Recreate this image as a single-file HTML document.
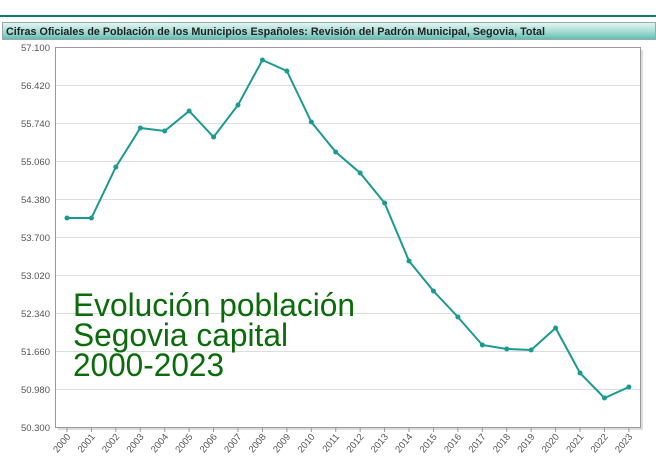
<!DOCTYPE html>
<html><head><meta charset="utf-8"><style>
body{margin:0;width:656px;height:469px;background:#fff;overflow:hidden;font-family:"Liberation Sans",sans-serif}
</style></head><body>
<svg width="656" height="469" xmlns="http://www.w3.org/2000/svg" style="position:absolute;left:0;top:0">
<defs><linearGradient id="g" x1="0" y1="0" x2="0" y2="1"><stop offset="0" stop-color="#e6f5f2"/><stop offset="0.5" stop-color="#a9ded6"/><stop offset="1" stop-color="#5fbcae"/></linearGradient></defs>
<rect x="0" y="15" width="656" height="2" fill="#0f7a6e"/>
<rect x="2.5" y="22.5" width="653" height="17" fill="url(#g)" stroke="#9aa" stroke-width="1"/>
<text x="6" y="35" font-size="11" font-weight="bold" fill="#222" textLength="539" lengthAdjust="spacingAndGlyphs">Cifras Oficiales de Población de los Municipios Españoles: Revisión del Padrón Municipal, Segovia, Total</text>
<rect x="58" y="50" width="585" height="380" fill="#ddd"/>
<rect x="55.5" y="47.5" width="585" height="380" fill="#fff" stroke="#999"/>
<g stroke="#ddd" stroke-width="1">
<line x1="56" x2="640" y1="85.5" y2="85.5"/><line x1="56" x2="640" y1="123.5" y2="123.5"/><line x1="56" x2="640" y1="161.5" y2="161.5"/><line x1="56" x2="640" y1="199.5" y2="199.5"/><line x1="56" x2="640" y1="237.5" y2="237.5"/><line x1="56" x2="640" y1="275.5" y2="275.5"/><line x1="56" x2="640" y1="313.5" y2="313.5"/><line x1="56" x2="640" y1="351.5" y2="351.5"/><line x1="56" x2="640" y1="389.5" y2="389.5"/>
</g>
<g font-size="9.5" fill="#555" text-anchor="end">
<text x="50" y="51">57.100</text><text x="50" y="89">56.420</text><text x="50" y="127">55.740</text><text x="50" y="165">55.060</text><text x="50" y="203">54.380</text><text x="50" y="241">53.700</text><text x="50" y="279">53.020</text><text x="50" y="317">52.340</text><text x="50" y="355">51.660</text><text x="50" y="393">50.980</text><text x="50" y="431">50.300</text>
</g>
<g id="xl" font-size="9.5" fill="#555" text-anchor="end"></g>
<g font-size="32" fill="#0b6b0b">
<text x="73" y="316" textLength="282" lengthAdjust="spacingAndGlyphs">Evolución población</text>
<text x="73" y="346" textLength="215" lengthAdjust="spacingAndGlyphs">Segovia capital</text>
<text x="73" y="376" textLength="151" lengthAdjust="spacingAndGlyphs">2000-2023</text>
</g>
<polyline id="ln" fill="none" stroke="#1a9a90" stroke-width="2" points=""/>
<g id="pts" fill="#1a9a90"></g>
</svg>
<script>
var ys=[218,218,167,128,131,111,137,105,60,71,122,152,173,203,261,291,317,345,349,350,328,373,398,387];
var p=[],pts='',xl='';
for(var i=0;i<24;i++){var x=67+i*24.43;p.push(x+','+ys[i]);pts+='<circle cx="'+x+'" cy="'+ys[i]+'" r="2.5"/>';
xl+='<text transform="translate('+(x+4)+',437) rotate(-50)">'+(2000+i)+'</text><line x1="'+x+'" x2="'+x+'" y1="428" y2="432" stroke="#999"/>';}
document.getElementById('ln').setAttribute('points',p.join(' '));
document.getElementById('pts').innerHTML=pts;
document.getElementById('xl').innerHTML=xl;
</script>
</body></html>
